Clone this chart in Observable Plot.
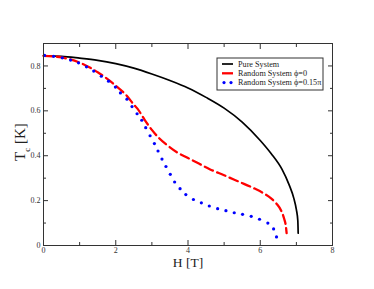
<!DOCTYPE html>
<html><head><meta charset="utf-8">
<script src="https://cdn.jsdelivr.net/npm/d3@7"></script>
<script src="https://cdn.jsdelivr.net/npm/@observablehq/plot@0.6"></script>
<style>body{margin:0;background:#fff}</style>
</head><body><div id="chart"></div>
<script>
// Pure system
const pureH = [0, 0.5, 1, 1.5, 2, 2.5, 3, 3.5, 4, 4.5, 5, 5.5, 6, 6.3, 6.6, 6.8, 6.93, 7.0, 7.04, 7.05];
const pureT = [0.845, 0.843, 0.835, 0.825, 0.81, 0.79, 0.764, 0.735, 0.702, 0.66, 0.612, 0.55, 0.468, 0.41, 0.34, 0.27, 0.21, 0.16, 0.11, 0.055];
// Random system phi=0
const redH = [0, 0.5, 1, 1.5, 2, 2.3, 2.5, 2.6, 2.8, 3.0, 3.2, 3.4, 3.7, 4.0, 4.3, 4.6, 5.0, 5.4, 5.8, 6.1, 6.3, 6.45, 6.58, 6.66, 6.71, 6.73];
const redT = [0.845, 0.838, 0.815, 0.772, 0.712, 0.668, 0.628, 0.61, 0.56, 0.515, 0.478, 0.45, 0.415, 0.39, 0.365, 0.34, 0.313, 0.285, 0.257, 0.232, 0.21, 0.186, 0.155, 0.12, 0.085, 0.055];
// Random system phi=0.15pi
const blueH = [0.03, 0.28, 0.52, 0.75, 0.97, 1.19, 1.39, 1.60, 1.80, 1.99, 2.13, 2.31, 2.45, 2.59, 2.72, 2.83, 2.95, 3.07, 3.17, 3.28, 3.39, 3.51, 3.63, 3.78, 3.94, 4.15, 4.37, 4.59, 4.82, 5.05, 5.28, 5.51, 5.75, 5.98, 6.21, 6.37, 6.45];
const blueT = [0.847, 0.843, 0.836, 0.826, 0.814, 0.796, 0.777, 0.754, 0.732, 0.706, 0.68, 0.652, 0.619, 0.587, 0.558, 0.525, 0.489, 0.454, 0.421, 0.385, 0.352, 0.317, 0.283, 0.253, 0.227, 0.205, 0.19, 0.176, 0.164, 0.155, 0.146, 0.139, 0.13, 0.117, 0.1, 0.074, 0.038];

const legendNames = ["Pure System", "Random System \u03D5=0", "Random System \u03D5=0.15\u03C0"];
const xMajor = [0, 2, 4, 6, 8];
const xMinor = [1, 3, 5, 7];
const yMajor = [0, 0.2, 0.4, 0.6, 0.8];
const yMinor = [0.1, 0.3, 0.5, 0.7];

const pure = pureH.map((h, i) => ({H: h, T: pureT[i]}));
const red = redH.map((h, i) => ({H: h, T: redT[i]}));
const blue = blueH.map((h, i) => ({H: h, T: blueT[i]}));

const ink = "#333";
const font = "'Liberation Serif', 'DejaVu Serif', serif";
const none = () => "";

const chart = Plot.plot({
  width: 374, height: 289,
  marginLeft: 43, marginRight: 42, marginTop: 43, marginBottom: 44,
  x: {domain: [0, 8]},
  y: {domain: [0, 0.9]},
  style: {fontFamily: font, fontSize: "8px", color: ink, background: "white", overflow: "visible"},
  marks: [
    Plot.line(pure, {x: "H", y: "T", stroke: "black", strokeWidth: 1.7, curve: "monotone-x"}),
    Plot.line(red, {x: "H", y: "T", stroke: "#ff0000", strokeWidth: 2.3, strokeDasharray: "9,4.5", curve: "monotone-x"}),
    Plot.dot(blue, {x: "H", y: "T", r: 1.6, fill: "#0000ff", stroke: null}),
    Plot.frame({stroke: ink}),
    Plot.axisX(xMajor, {anchor: "bottom", tickSize: 0, tickPadding: 2, label: null, fill: ink}),
    Plot.axisX(xMajor, {anchor: "bottom", tickSize: -5, tickFormat: none, label: null, stroke: ink}),
    Plot.axisX(xMinor, {anchor: "bottom", tickSize: -3, tickFormat: none, label: null, stroke: ink}),
    Plot.axisX(xMajor, {anchor: "top", tickSize: -5, tickFormat: none, label: null, stroke: ink}),
    Plot.axisX(xMinor, {anchor: "top", tickSize: -3, tickFormat: none, label: null, stroke: ink}),
    Plot.axisY(yMajor, {anchor: "left", tickSize: 0, tickPadding: 3, label: null, fill: ink, tickFormat: d => d === 0 ? "0" : d.toFixed(1)}),
    Plot.axisY(yMajor, {anchor: "left", tickSize: -5, tickFormat: none, label: null, stroke: ink}),
    Plot.axisY(yMinor, {anchor: "left", tickSize: -3, tickFormat: none, label: null, stroke: ink}),
    Plot.axisY(yMajor, {anchor: "right", tickSize: -5, tickFormat: none, label: null, stroke: ink}),
    Plot.axisY(yMinor, {anchor: "right", tickSize: -3, tickFormat: none, label: null, stroke: ink})
  ]
});
document.getElementById("chart").appendChild(chart);

const svg = d3.select(chart);
// axis titles
svg.append("text").attr("x", 188).attr("y", 267).attr("text-anchor", "middle")
  .style("font-family", font).style("font-size", "13.5px").attr("fill", "#222").text("H [T]");
const yl = svg.append("text").attr("transform", "translate(25,142) rotate(-90)").attr("text-anchor", "middle")
  .style("font-family", font).style("font-size", "15px").attr("fill", "#222");
yl.append("tspan").text("T");
yl.append("tspan").attr("dy", 5).style("font-size", "9px").text("c");
yl.append("tspan").attr("dy", -5).text(" [K]");

// legend
const lg = svg.append("g").attr("text-anchor", "start");
lg.append("rect").attr("x", 217).attr("y", 58).attr("width", 106).attr("height", 32)
  .attr("fill", "white").attr("stroke", ink).attr("stroke-width", 1);
const rowY = [64, 73.3, 82.6];
lg.append("line").attr("x1", 222).attr("x2", 233).attr("y1", rowY[0]).attr("y2", rowY[0]).attr("stroke", "black").attr("stroke-width", 1.7);
lg.append("line").attr("x1", 222).attr("x2", 233).attr("y1", rowY[1]).attr("y2", rowY[1]).attr("stroke", "#ff0000").attr("stroke-width", 2.3);
[224, 231].forEach(cx => lg.append("circle").attr("cx", cx).attr("cy", rowY[2]).attr("r", 1.6).attr("fill", "#0000ff"));
legendNames.forEach((n, i) => lg.append("text").attr("x", 238).attr("y", rowY[i]).attr("dy", "0.32em")
  .attr("text-anchor", "start")
  .style("font-family", font).style("font-size", "8.2px").attr("fill", "#222").text(n));
</script>
</body></html>
